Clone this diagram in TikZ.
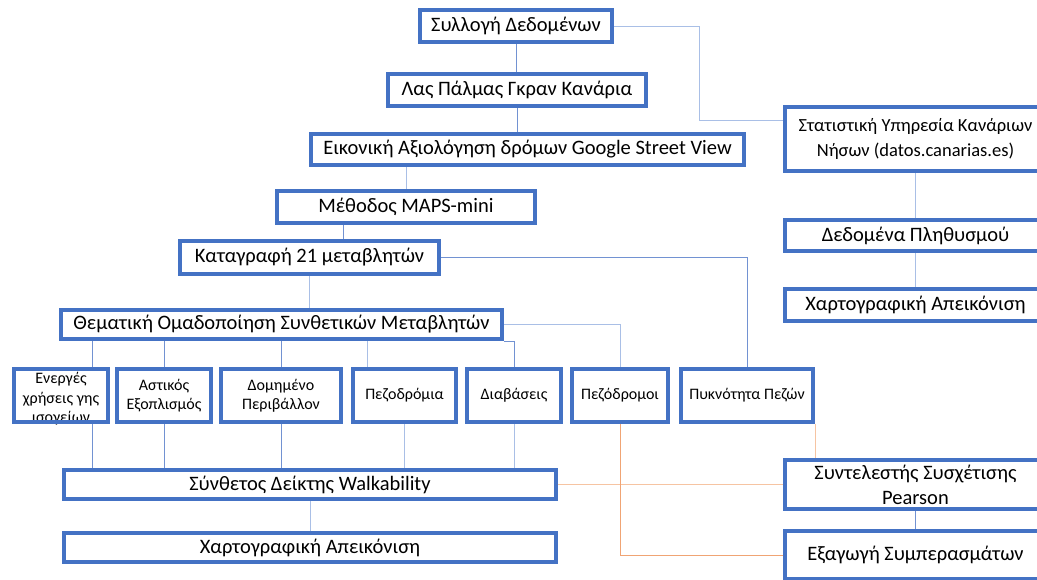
\documentclass[tikz,border=0pt]{standalone}
\usepackage{fontspec}
\setmainfont{Carlito}
\usetikzlibrary{positioning,backgrounds}
\definecolor{boxblue}{HTML}{4472C4}
\definecolor{linkblue}{HTML}{7292D2}
\definecolor{paleblue}{HTML}{A9BFE6}
\definecolor{linkorange}{HTML}{F0A474}
\definecolor{paleorange}{HTML}{F6C4A2}

\begin{document}
\begin{tikzpicture}[x=1pt, y=-1pt,
                      every node/.style = {font=\fontsize{20.5}{24}\selectfont},
                      box/.style = {shape=rectangle, draw=boxblue, line width=4pt,
                        align=center, inner sep=0pt},
                      smallbox/.style = {box, minimum height=53pt,
                        font=\fontsize{16}{19.5}\selectfont},
                      rightbox/.style = {box, minimum width=261pt},
                      link/.style = {draw=linkblue, line width=0.85pt},
                      palelink/.style = {draw=paleblue, line width=0.95pt},
                      orangelink/.style = {draw=linkorange, line width=0.85pt}]
  \useasboundingbox (0,0) rectangle (1037,580);
  \clip (0,0) rectangle (1037,580);

  % main chain
  \node[box, minimum width=192pt, minimum height=32pt] (sylloge) at (516,26) {Συλλογή Δεδομένων};
  \node[box, minimum width=258pt, minimum height=32pt] (laspalmas) at (517,90) {Λας Πάλμας Γκραν Κανάρια};
  \node[box, minimum width=433pt, minimum height=31pt] (eikoniki) at (527.5,149.5) {Εικονική Αξιολόγηση δρόμων Google Street View};
  \node[box, minimum width=258pt, minimum height=32pt] (methodos) at (406,207) {Μέθοδος MAPS-mini};
  \node[box, minimum width=259pt, minimum height=33pt] (katagrafi) at (309.5,257.5) {Καταγραφή 21 μεταβλητών};
  \node[box, minimum width=441pt, minimum height=29pt] (thematiki) at (281.5,324.5) {Θεματική Ομαδοποίηση Συνθετικών Μεταβλητών};

  % groups of variables
  \node[font=\fontsize{16}{19.5}\selectfont, align=center] (energestxt) at (61,399) {Ενεργές\\χρήσεις γης\\ισογείων};
  \node[smallbox, minimum width=94pt] (energes) at (61,395.5) {};
  \node[smallbox, minimum width=94pt] (astikos) at (164,395.5) {Αστικός\\Εξοπλισμός};
  \node[smallbox, minimum width=120pt] (domimeno) at (281,395.5) {Δομημένο\\Περιβάλλον};
  \node[smallbox, minimum width=103pt] (pezodromia) at (404.5,395.5) {Πεζοδρόμια};
  \node[smallbox, minimum width=94pt] (diavaseis) at (514,395.5) {Διαβάσεις};
  \node[smallbox, minimum width=96pt] (pezodromoi) at (620,395.5) {Πεζόδρομοι};
  \node[smallbox, minimum width=132pt] (pyknotita) at (747,395.5) {Πυκνότητα Πεζών};

  \node[box, minimum width=492pt, minimum height=29pt] (synthetos) at (310,484.5) {Σύνθετος Δείκτης Walkability};
  \node[box, minimum width=492pt, minimum height=29pt] (xartleft) at (310,547.5) {Χαρτογραφική Απεικόνιση};

  % right column
  \node[rightbox, minimum height=64pt, font=\fontsize{18.5}{25}\selectfont] (statistiki) at (915.5,139) {Στατιστική Υπηρεσία Κανάριων\\Νήσων (datos.canarias.es)};
  \node[rightbox, minimum height=31pt] (dedomena) at (915.5,235.5) {Δεδομένα Πληθυσμού};
  \node[rightbox, minimum height=32pt] (xartright) at (915.5,305) {Χαρτογραφική Απεικόνιση};
  \node[rightbox, minimum height=49pt, font=\fontsize{20.5}{25}\selectfont] (synt) at (915.5,484.5) {Συντελεστής Συσχέτισης\\Pearson};
  \node[rightbox, minimum height=48pt] (exagogi) at (915.5,555) {Εξαγωγή Συμπερασμάτων};

  \coordinate (bend) at (699,120);
  \coordinate (mk) at (343,0);
  \coordinate (ek) at (92,0);
  \coordinate (pk) at (367,0);

  \begin{scope}[on background layer]
    \draw[link] (sylloge.south) -- (sylloge.south |- laspalmas.north);
    \draw[link] (laspalmas.south) -- (laspalmas.south |- eikoniki.north);
    \draw[palelink] (methodos.north) -- (methodos.north |- eikoniki.south);
    \draw[link] (mk |- methodos.south) -- (mk |- katagrafi.north);
    \draw[palelink] (katagrafi.south) -- (katagrafi.south |- thematiki.north);
    \draw[link] (ek |- thematiki.south) -- (ek |- energes.north);
    \draw[link] (astikos.north) -- (astikos.north |- thematiki.south);
    \draw[link] (domimeno.north) -- (domimeno.north |- thematiki.south);
    \draw[palelink] (pk |- thematiki.south) -- (pk |- pezodromia.north);
    \draw[link] (thematiki.south east) -| (diavaseis.north);
    \draw[palelink] (thematiki.east) -| (pezodromoi.north);
    \draw[link] (katagrafi.east) -| (pyknotita.north);
    \draw[link] (ek |- energes.south) -- (ek |- synthetos.north);
    \draw[link] (astikos.south) -- (astikos.south |- synthetos.north);
    \draw[link] (domimeno.south) -- (domimeno.south |- synthetos.north);
    \draw[palelink] (pezodromia.south) -- (pezodromia.south |- synthetos.north);
    \draw[palelink] (diavaseis.south) -- (diavaseis.south |- synthetos.north);
    \draw[palelink] (synthetos.south) -- (synthetos.south |- xartleft.north);
    \draw[palelink] (sylloge.east) -| (bend) -- (bend -| statistiki.west);
    \draw[palelink] (statistiki.south) -- (statistiki.south |- dedomena.north);
    \draw[palelink] (dedomena.south) -- (dedomena.south |- xartright.north);
    \draw[link] (synt.south) -- (synt.south |- exagogi.north);
    \draw[orangelink, draw=paleorange] (synthetos.east) -- (synt.west);
    \draw[orangelink] (pezodromoi.south) |- (exagogi.west);
    \draw[orangelink, draw=paleorange] (pyknotita.south east) -- (pyknotita.south east |- synt.north);
  \end{scope}
\end{tikzpicture}
\end{document}
